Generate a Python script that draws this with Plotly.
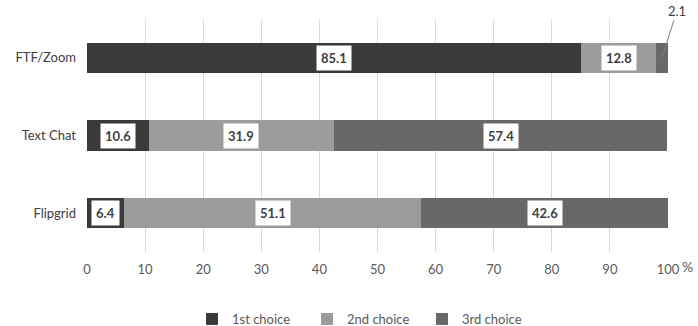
import plotly.graph_objects as go

categories = ["Flipgrid", "Text Chat", "FTF/Zoom"]
first_choice = [6.4, 10.6, 85.1]
second_choice = [51.1, 31.9, 12.8]
third_choice = [42.6, 57.4, 2.1]
series_names = ["1st choice", "2nd choice", "3rd choice"]
colors = ["#3a3a3a", "#9c9c9c", "#686868"]
x_ticks = [0, 10, 20, 30, 40, 50, 60, 70, 80, 90, 100]

FONT = "Lato, 'Open Sans', sans-serif"
fig = go.Figure()
series = [first_choice, second_choice, third_choice]
for name, vals, col in zip(series_names, series, colors):
    fig.add_trace(go.Bar(
        y=categories, x=vals, name=name, orientation="h",
        marker=dict(color=col, line=dict(width=0)),
    ))

# value labels (white boxes)
for ci, cat in enumerate(categories):
    base = 0
    for si, vals in enumerate(series):
        v = vals[ci]
        mid = base + v / 2
        base += v
        if v < 5:
            fig.add_annotation(
                x=base - v / 2, y=cat, text=f"{v:.1f}", showarrow=True,
                arrowhead=0, arrowwidth=1, arrowcolor="#7f7f7f",
                ax=15, ay=-47, font=dict(family=FONT, size=13, color="#404040"),
                standoff=0,
            )
        else:
            fig.add_annotation(
                x=mid, y=cat, text=f"<b>{v:.1f}</b>", showarrow=False,
                bgcolor="white", borderpad=4, height=16,
                font=dict(family=FONT, size=13, color="#404040"),
            )

fig.add_annotation(x=1.0, y=-0.064, xref="paper", yref="paper", text="%",
                   showarrow=False, xanchor="left", yanchor="middle", xshift=12,
                   font=dict(family=FONT, size=14, color="#595959"))

fig.update_layout(
    width=698, height=326,
    margin=dict(l=87, r=30, t=19, b=74, autoexpand=False),
    paper_bgcolor="white", plot_bgcolor="white",
    barmode="stack", bargap=0.61,
    showlegend=True,
    legend=dict(orientation="h", x=0.4776, xanchor="center",
                y=-0.2876, yanchor="middle",
                font=dict(family=FONT, size=13, color="#595959"),
                entrywidth=70, itemwidth=30, traceorder="normal"),
    font=dict(family=FONT, color="#595959"),
)
fig.update_xaxes(range=[0, 100], tickvals=x_ticks, showgrid=True, gridcolor="#d9d9d9",
                 gridwidth=1, zeroline=False, showline=False, ticks="",
                 tickfont=dict(family=FONT, size=13, color="#595959"), ticklabelstandoff=8)
fig.update_yaxes(categoryorder="array", categoryarray=categories, range=[-0.5, 2.5],
                 showgrid=False, zeroline=False, showline=False, ticks="",
                 tickfont=dict(family=FONT, size=13, color="#404040"), ticklabelstandoff=10)

fig.write_html("out.html")
